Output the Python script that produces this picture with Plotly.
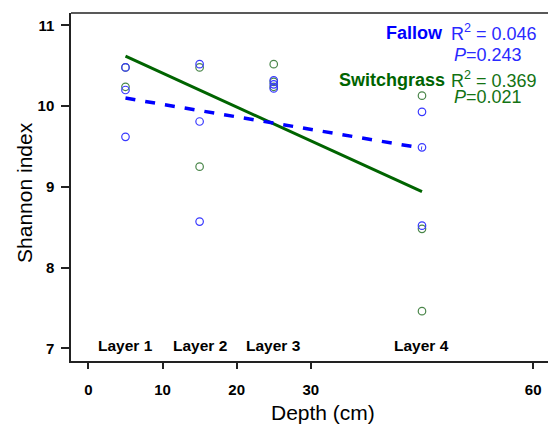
import plotly.graph_objects as go

# ---- data ----
layer_names = ["Layer 1", "Layer 2", "Layer 3", "Layer 4"]
layer_depths = [5, 15, 25, 45]

fallow_depth = [5, 5, 5, 15, 15, 15, 25, 25, 25, 45, 45, 45]
fallow_shannon = [10.48, 10.20, 9.62, 10.52, 9.81, 8.57, 10.32, 10.27, 10.22, 9.93, 9.49, 8.52]

switch_depth = [5, 5, 15, 15, 25, 25, 25, 45, 45, 45]
switch_shannon = [10.48, 10.24, 10.48, 9.25, 10.52, 10.30, 10.24, 10.13, 8.48, 7.46]

fit_depth = [5, 45]
fallow_fit = [10.10, 9.48]
switch_fit = [10.62, 8.94]

x_ticks = [0, 10, 20, 30, 60]
y_ticks = [7, 8, 9, 10, 11]

fallow_stats = ["R<sup>2</sup> = 0.046", "<i>P</i>=0.243"]
switch_stats = ["R<sup>2</sup> = 0.369", "<i>P</i>=0.021"]

BLUE = "#0000ff"
BLUE_PT = "#3838ff"
GREEN = "#006400"
GREEN_PT = "#4a864a"
GREEN_TXT = "#137313"
FONT = "Liberation Sans, Arial, sans-serif"

fig = go.Figure()
fig.add_trace(go.Scatter(x=switch_depth, y=switch_shannon, mode="markers",
                         marker=dict(symbol="circle-open", size=7.5, color=GREEN_PT, line=dict(width=1.2)),
                         showlegend=False))
fig.add_trace(go.Scatter(x=fallow_depth, y=fallow_shannon, mode="markers",
                         marker=dict(symbol="circle-open", size=7.5, color=BLUE_PT, line=dict(width=1.2)),
                         showlegend=False))
fig.add_trace(go.Scatter(x=fit_depth, y=switch_fit, mode="lines",
                         line=dict(color=GREEN, width=3), showlegend=False))
fig.add_trace(go.Scatter(x=fit_depth, y=fallow_fit, mode="lines",
                         line=dict(color=BLUE, width=3.5, dash="10px,10px"), showlegend=False))

ann = []
for name, d in zip(layer_names, layer_depths):
    ann.append(dict(x=d, y=7.03, xref="x", yref="y", text=name, showarrow=False,
                    xanchor="center", yanchor="middle",
                    font=dict(family=FONT, size=15.5, color="black", weight="bold")))

ann.append(dict(x=0.7835, y=0.943, xref="paper", yref="paper", text="Fallow", showarrow=False,
                xanchor="right", yanchor="middle", font=dict(family=FONT, size=18, color=BLUE, weight="bold")))
ann.append(dict(x=0.792, y=0.945, xref="paper", yref="paper", text=fallow_stats[0], showarrow=False,
                xanchor="left", yanchor="middle", font=dict(family=FONT, size=18, color="#2a2aff")))
ann.append(dict(x=0.799, y=0.880, xref="paper", yref="paper", text=fallow_stats[1], showarrow=False,
                xanchor="left", yanchor="middle", font=dict(family=FONT, size=18, color="#2a2aff")))
ann.append(dict(x=0.7875, y=0.808, xref="paper", yref="paper", text="Switchgrass", showarrow=False,
                xanchor="right", yanchor="middle", font=dict(family=FONT, size=18, color=GREEN, weight="bold")))
ann.append(dict(x=0.792, y=0.810, xref="paper", yref="paper", text=switch_stats[0], showarrow=False,
                xanchor="left", yanchor="middle", font=dict(family=FONT, size=18, color=GREEN_TXT)))
ann.append(dict(x=0.799, y=0.758, xref="paper", yref="paper", text=switch_stats[1], showarrow=False,
                xanchor="left", yanchor="middle", font=dict(family=FONT, size=18, color=GREEN_TXT)))

# axis titles
ann.append(dict(x=0.528, y=-0.147, xref="paper", yref="paper", text="Depth (cm)", showarrow=False,
                xanchor="center", yanchor="middle", font=dict(family=FONT, size=21, color="black")))
ann.append(dict(x=-0.0964, y=0.483, xref="paper", yref="paper", text="Shannon index", showarrow=False,
                textangle=-90, xanchor="center", yanchor="middle", font=dict(family=FONT, size=21, color="black")))

fig.update_layout(
    width=548, height=425,
    margin=dict(l=71, r=0, t=13, b=64, autoexpand=False),
    paper_bgcolor="white", plot_bgcolor="white",
    annotations=ann,
    shapes=[dict(type="line", xref="paper", yref="paper", x0=0, x1=1, y0=1, y1=1,
                 line=dict(color="#222222", width=1.5))],
)
fig.update_xaxes(range=[-2.35, 62.0], tickvals=x_ticks, ticktext=[str(v) for v in x_ticks],
                 showgrid=False, zeroline=False, showline=True, linecolor="#222222", linewidth=1.5,
                 ticks="outside", ticklen=6, tickwidth=1.5, tickcolor="#222222",
                 ticklabelstandoff=8, automargin=False,
                 tickfont=dict(family=FONT, size=15, color="black", weight="bold"))
fig.update_yaxes(range=[6.843, 11.154], tickvals=y_ticks, ticktext=[str(v) for v in y_ticks],
                 showgrid=False, zeroline=False, showline=True, linecolor="#222222", linewidth=1.5,
                 ticks="outside", ticklen=8, tickwidth=1.5, tickcolor="#222222",
                 ticklabelstandoff=4, automargin=False,
                 tickfont=dict(family=FONT, size=15, color="black", weight="bold"))

fig.write_html("out.html", config={"displayModeBar": False},
               post_script="document.body.style.margin='0';document.body.style.overflow='hidden';")
